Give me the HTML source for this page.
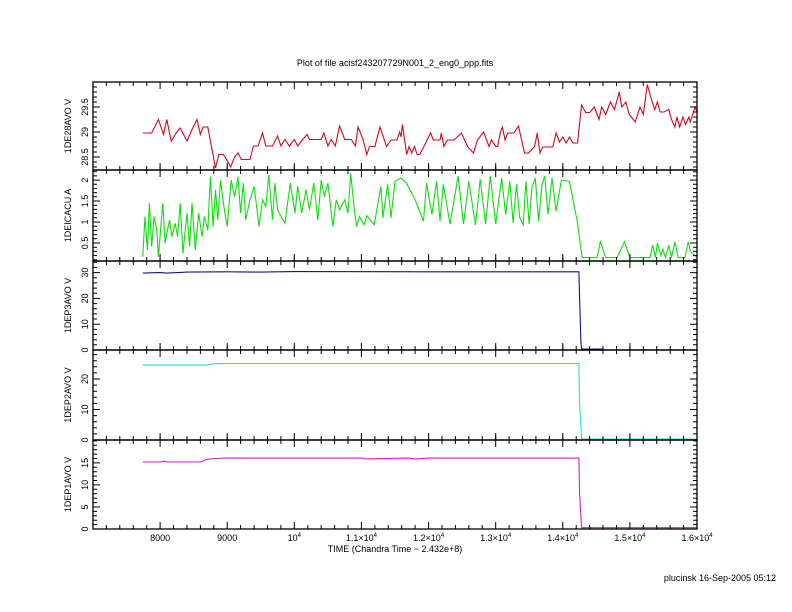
<!DOCTYPE html>
<html><head><meta charset="utf-8">
<style>
html,body{margin:0;padding:0;background:#fff;}
svg{display:block;font-family:"Liberation Sans",sans-serif;}
</style></head>
<body>
<svg id="chart" width="792" height="612" viewBox="0 0 792 612" xmlns="http://www.w3.org/2000/svg">
<text x="395" y="66" font-size="9" text-anchor="middle">Plot of file acisf243207729N001_2_eng0_ppp.fits</text>
<text x="395" y="552" font-size="9" text-anchor="middle">TIME (Chandra Time − 2.432e+8)</text>
<text x="776" y="581" font-size="9" text-anchor="end">plucinsk 16-Sep-2005 05:12</text>
</svg>
<script>
// x axis
const xTickValues=[8000,9000,10000,11000,12000,13000,14000,15000,16000];
const xTickLabels=["8000","9000","10^4","1.1×10^4","1.2×10^4","1.3×10^4","1.4×10^4","1.5×10^4","1.6×10^4"];
// panel 1: 1DE28AVO
const redT=[7740,7875,7975,8050,8100,8165,8250,8300,8350,8400,8475,8550,8600,8640,8710,8825,8875,8940,8990,9050,9110,9160,9210,9340,9390,9460,9525,9575,9675,9750,9800,9860,9925,10000,10050,10125,10190,10225,10400,10440,10500,10550,10610,10675,10750,10850,10910,10950,11025,11080,11120,11200,11275,11375,11440,11530,11570,11590,11610,11675,11710,11750,11790,11830,11870,11930,12030,12070,12170,12190,12230,12280,12380,12490,12580,12670,12730,12820,12900,12940,13000,13030,13070,13100,13140,13180,13270,13340,13430,13490,13580,13620,13660,13700,13740,13775,13850,13900,13950,14000,14050,14100,14150,14220,14280,14340,14400,14470,14540,14580,14640,14710,14770,14840,14880,14940,14990,15080,15150,15200,15260,15310,15370,15410,15450,15510,15580,15620,15670,15700,15740,15790,15830,15880,15900,15970,16000];
const redV=[28.98,28.98,29.25,28.95,29.25,28.82,29.0,29.08,28.95,28.82,29.05,29.25,28.95,29.1,29.1,28.28,28.55,28.55,28.45,28.3,28.5,28.58,28.45,28.45,28.72,28.72,28.98,28.72,28.72,28.92,28.72,28.85,28.72,28.85,28.72,28.85,28.95,28.85,28.85,28.98,28.72,28.85,28.72,29.12,28.85,28.85,28.72,29.1,28.85,28.55,28.71,28.71,29.1,28.71,28.84,28.84,29.0,28.9,29.15,28.55,28.71,28.58,28.71,28.55,28.55,28.71,28.98,28.84,28.84,28.98,28.71,28.84,28.84,28.98,28.71,28.58,28.84,29.0,28.71,28.84,28.71,28.71,29.0,29.1,28.84,28.98,28.98,29.12,28.58,28.58,28.71,28.98,28.58,28.7,28.7,28.7,28.7,28.98,28.8,28.9,28.78,28.9,28.78,28.78,29.54,29.39,29.39,29.5,29.25,29.5,29.35,29.6,29.45,29.8,29.5,29.6,29.35,29.2,29.5,29.35,29.95,29.7,29.45,29.6,29.4,29.4,29.45,29.25,29.1,29.3,29.1,29.3,29.15,29.3,29.2,29.5,29.4];
// panel 2: 1DEICACU
const greenT=[7740,7775,7810,7840,7875,7910,7950,7975,8040,8075,8140,8175,8225,8260,8300,8340,8400,8440,8475,8525,8575,8625,8660,8710,8750,8790,8825,8860,8900,8950,9000,9060,9110,9160,9200,9240,9275,9340,9400,9475,9525,9575,9620,9675,9710,9750,9800,9860,9940,10010,10050,10110,10175,10225,10290,10350,10400,10450,10500,10575,10625,10675,10750,10800,10840,10900,10930,10970,11040,11080,11190,11290,11320,11390,11440,11500,11590,11670,11800,11925,11970,12050,12120,12170,12220,12320,12440,12520,12600,12700,12770,12850,12920,13000,13090,13150,13210,13260,13310,13360,13410,13450,13500,13540,13590,13640,13690,13730,13780,13840,13900,13980,14100,14220,14250,14290,14510,14560,14640,14810,14920,15000,15300,15340,15380,15410,15460,15490,15530,15580,15620,15670,15720,15820,15870,15900,16000];
const greenV=[0.17,1.13,0.33,1.45,0.41,1.13,0.8,0.17,1.45,0.5,1.05,0.65,0.97,0.65,1.45,0.25,1.21,0.41,1.45,0.33,1.21,0.65,1.13,0.8,2.08,0.89,1.77,1.05,2.0,1.37,0.89,2.0,1.6,2.08,1.21,1.93,1.05,1.53,1.85,0.89,1.53,1.37,2.12,1.05,1.93,1.29,1.13,0.97,1.93,1.21,1.85,1.21,1.77,1.29,1.93,1.05,2.0,1.6,1.93,0.89,1.53,1.29,1.53,1.21,2.16,1.21,0.89,1.13,0.93,1.15,0.93,1.85,1.1,1.9,1.1,1.97,2.05,1.93,1.53,1.02,1.93,1.18,1.97,1.02,1.9,0.95,2.1,0.95,1.97,0.93,2.02,0.95,2.1,0.95,2.05,1.18,1.97,0.98,1.9,1.1,0.93,1.97,0.95,1.82,2.05,1.02,1.9,2.1,1.18,2.05,1.26,2.0,1.97,0.98,0.6,0.15,0.15,0.53,0.15,0.15,0.53,0.15,0.15,0.45,0.15,0.5,0.2,0.35,0.15,0.45,0.15,0.53,0.15,0.15,0.53,0.3,0.15];
// panel 3: 1DEP3AVO
const blueT=[7740,8000,8100,8300,8400,9000,9500,10000,12000,14240,14250,14270,14280,14600];
const blueV=[29.8,30.0,29.8,30.1,30.2,30.3,30.2,30.4,30.3,30.3,20,3,0.4,0.4];
// panel 4: 1DEP2AVO
const cyanT=[7740,8700,8800,9000,12000,14240,14250,14280,16000];
const cyanV=[24.6,24.6,25.0,25.1,25.1,25.1,12,0.3,0.3];
// panel 5: 1DEP1AVO
const magT=[7740,8000,8050,8100,8600,8700,8800,9000,10000,11000,11050,11700,11800,12000,14240,14250,14280,16000];
const magV=[15.2,15.2,15.4,15.2,15.2,15.8,16.0,16.1,16.1,16.1,15.9,16.1,15.9,16.1,16.1,8,0.3,0.3];
// panel y tick values
const p1Ticks=[28.5,29,29.5]; const p1Labels=["28.5","29","29.5"];
const p2Ticks=[0.5,1,1.5,2]; const p2Labels=["0.5","1","1.5","2"];
const p3Ticks=[0,10,20,30]; const p3Labels=["0","10","20","30"];
const p4Ticks=[0,10,20]; const p4Labels=["0","10","20"];
const p5Ticks=[0,5,10,15]; const p5Labels=["0","5","10","15"];

const svg=document.getElementById('chart');
const NS="http://www.w3.org/2000/svg";
const X0=93,X1=697,T0=7000,T1=16000;
function xs(t){return X0+(t-T0)/(T1-T0)*(X1-X0);}
function mk(tag,attrs){const e=document.createElementNS(NS,tag);for(const k in attrs)e.setAttribute(k,attrs[k]);svg.appendChild(e);return e;}

const panels=[
 {name:'1de28avo',title:'1DE28AVO  V',top:82,bot:170,lo:28.24,hi:30.0,ticks:p1Ticks,labels:p1Labels,minor:0.1,T:redT,V:redV,color:'#cc0a1e'},
 {name:'1deicacu',title:'1DEICACU  A',top:170,bot:261,lo:0.07,hi:2.24,ticks:p2Ticks,labels:p2Labels,minor:0.1,T:greenT,V:greenV,color:'#10dd10'},
 {name:'1dep3avo',title:'1DEP3AVO  V',top:261,bot:350,lo:0,hi:34.5,ticks:p3Ticks,labels:p3Labels,minor:2,T:blueT,V:blueV,color:'#141480'},
 {name:'1dep2avo',title:'1DEP2AVO  V',top:350,bot:440,lo:0,hi:29.5,ticks:p4Ticks,labels:p4Labels,minor:2,T:cyanT,V:cyanV,color:'#20e0e0'},
 {name:'1dep1avo',title:'1DEP1AVO  V',top:440,bot:529,lo:0,hi:20.2,ticks:p5Ticks,labels:p5Labels,minor:1,T:magT,V:magV,color:'#cc22cc'}
];

panels.forEach((p,pi)=>{
  const ys=v=>p.bot-(v-p.lo)/(p.hi-p.lo)*(p.bot-p.top);
  // series
  let d='';
  for(let i=0;i<p.T.length;i++){d+=(i?'L':'M')+xs(p.T[i]).toFixed(1)+','+ys(p.V[i]).toFixed(1);}
  const line=mk('path',{d:d,fill:'none',stroke:p.color,'stroke-width':1.1});
  
  
  // frame
  const fr=mk('rect',{x:X0,y:p.top,width:X1-X0,height:p.bot-p.top,fill:'none',stroke:'#000','stroke-width':1.3});
  
  
  // x ticks
  let td='';
  for(let t=7200;t<=16000;t+=200){
    const x=xs(t).toFixed(1);const major=(t%1000===0);const L=major?7:4;
    td+=`M${x},${p.top}v${L}M${x},${p.bot}v${-L}`;
    if(major&&pi>0) td+=`M${x},${p.top}v-4`;
  }
  // y ticks
  const start=Math.ceil(p.lo/p.minor)*p.minor;
  for(let v=start;v<=p.hi+1e-9;v+=p.minor){
    const y=ys(v).toFixed(1);
    const major=p.ticks.some(tv=>Math.abs(tv-v)<1e-6);const L=major?7:4;
    td+=`M${X0},${y}h${L}M${X1},${y}h${-L}`;
  }
  const tk=mk('path',{d:td,stroke:'#000','stroke-width':1,fill:'none'});
  
  
  // y labels
  p.ticks.forEach((v,i)=>{
    const y=ys(v);
    const tx=mk('text',{x:0,y:0,'font-size':9,'text-anchor':'middle',transform:`translate(88,${y.toFixed(1)}) rotate(-90)`});
    tx.textContent=p.labels[i];
    
    
  });
  const tt=mk('text',{x:0,y:0,'font-size':9,'text-anchor':'middle',transform:`translate(71,${((p.top+p.bot)/2).toFixed(1)}) rotate(-90)`});
  tt.textContent=p.title;
  
  
});

// x tick labels
xTickValues.forEach((t,i)=>{
  const lab=xTickLabels[i];
  const tx=mk('text',{x:xs(t).toFixed(1),y:541,'font-size':9,'text-anchor':'middle'});
  if(lab.includes('^')){
    const [b,e]=lab.split('^');
    const s1=document.createElementNS(NS,'tspan');s1.textContent=b;tx.appendChild(s1);
    const s2=document.createElementNS(NS,'tspan');s2.setAttribute('dy','-4');s2.setAttribute('font-size','6');s2.textContent=e;tx.appendChild(s2);
  } else tx.textContent=lab;
  
  
});
</script>
</body></html>
